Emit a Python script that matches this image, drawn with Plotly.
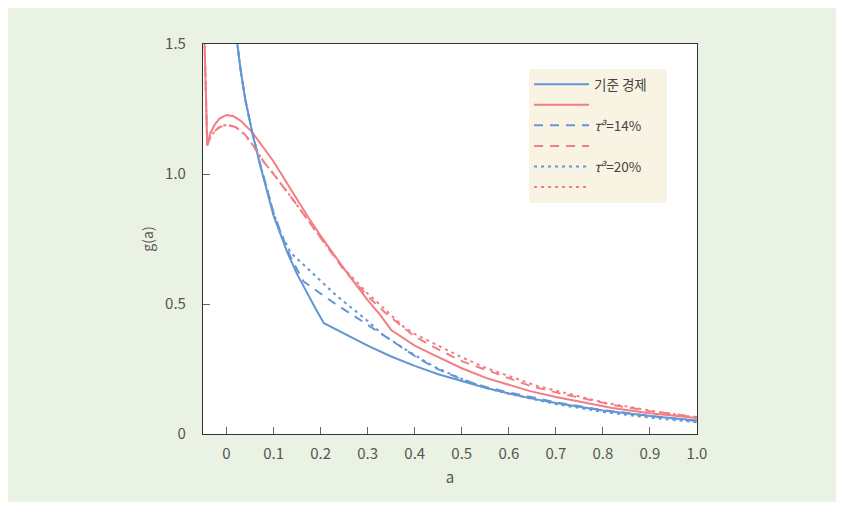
import plotly.graph_objects as go

# ---- data ----
blue_solid_x = [0.018, 0.023, 0.03, 0.04, 0.055, 0.072, 0.1, 0.115, 0.13, 0.15, 0.17, 0.19, 0.207,
                0.25, 0.3, 0.35, 0.4, 0.45, 0.5, 0.55, 0.6, 0.65, 0.7, 0.8, 0.9, 1.0]
blue_solid_y = [1.6, 1.5, 1.40, 1.285, 1.157, 1.03, 0.84, 0.765, 0.695, 0.615, 0.545, 0.48, 0.426,
                0.385, 0.34, 0.298, 0.262, 0.23, 0.203, 0.178, 0.156, 0.136, 0.119, 0.09, 0.069, 0.052]

blue_dash_x = [0.018, 0.023, 0.03, 0.04, 0.055, 0.072, 0.1, 0.115, 0.13, 0.139, 0.164, 0.2, 0.235,
               0.3, 0.338, 0.4, 0.44, 0.5, 0.553, 0.6, 0.7, 0.8, 0.9, 1.0]
blue_dash_y = [1.6, 1.5, 1.40, 1.285, 1.157, 1.035, 0.85, 0.775, 0.705, 0.67, 0.586, 0.54, 0.496,
               0.42, 0.374, 0.30, 0.257, 0.21, 0.18, 0.16, 0.122, 0.092, 0.07, 0.05]

blue_dot_x = [0.018, 0.023, 0.03, 0.04, 0.055, 0.072, 0.1, 0.115, 0.136, 0.2, 0.235, 0.3, 0.33,
              0.376, 0.4, 0.44, 0.5, 0.55, 0.6, 0.7, 0.8, 0.9, 1.0]
blue_dot_y = [1.6, 1.5, 1.40, 1.285, 1.157, 1.035, 0.85, 0.775, 0.698, 0.587, 0.53, 0.435, 0.385,
              0.33, 0.305, 0.26, 0.212, 0.178, 0.155, 0.115, 0.085, 0.063, 0.045]

red_solid_x = [-0.048, -0.041, -0.035, -0.025, -0.015, 0.0, 0.015, 0.03, 0.055, 0.075, 0.1, 0.125,
               0.15, 0.175, 0.2, 0.25, 0.3, 0.327, 0.35, 0.4, 0.44, 0.5, 0.553, 0.6, 0.645, 0.7, 0.82, 0.9, 1.0]
red_solid_y = [1.6, 1.11, 1.155, 1.19, 1.213, 1.227, 1.222, 1.205, 1.16, 1.112, 1.048, 0.975,
               0.90, 0.83, 0.762, 0.635, 0.515, 0.457, 0.40, 0.34, 0.304, 0.253, 0.215, 0.188, 0.165, 0.142, 0.1, 0.08, 0.062]

red_dash_x = [-0.048, -0.041, -0.035, -0.025, -0.015, 0.0, 0.02, 0.04, 0.06, 0.08, 0.1, 0.115, 0.15,
              0.178, 0.2, 0.25, 0.3, 0.338, 0.376, 0.4, 0.44, 0.5, 0.553, 0.645, 0.7, 0.82, 0.9, 1.0]
red_dash_y = [1.6, 1.11, 1.14, 1.165, 1.18, 1.19, 1.18, 1.15, 1.1, 1.045, 1.0, 0.965, 0.88,
              0.81, 0.755, 0.63, 0.53, 0.465, 0.41, 0.375, 0.335, 0.28, 0.246, 0.185, 0.16, 0.112, 0.088, 0.065]

red_dot_x = [-0.048, -0.041, -0.035, -0.025, -0.015, 0.0, 0.02, 0.04, 0.06, 0.08, 0.1, 0.115, 0.15,
             0.178, 0.2, 0.25, 0.3, 0.327, 0.376, 0.4, 0.44, 0.5, 0.553, 0.66, 0.8, 0.9, 1.0]
red_dot_y = [1.6, 1.11, 1.14, 1.165, 1.18, 1.19, 1.18, 1.15, 1.1, 1.045, 1.0, 0.965, 0.88,
             0.81, 0.755, 0.635, 0.54, 0.496, 0.413, 0.385, 0.35, 0.295, 0.253, 0.185, 0.122, 0.09, 0.063]

x_ticks = [0, 0.1, 0.2, 0.3, 0.4, 0.5, 0.6, 0.7, 0.8, 0.9, 1.0]
x_tick_labels = ["0", "0.1", "0.2", "0.3", "0.4", "0.5", "0.6", "0.7", "0.8", "0.9", "1.0"]
y_ticks = [0, 0.5, 1.0, 1.5]
y_tick_labels = ["0", "0.5", "1.0", "1.5"]

BLUE = "#6396D4"
RED = "#F27E84"
FONT = "Noto Sans CJK KR"

series = [
    ("기준 경제&nbsp;&nbsp;&nbsp;&nbsp;&nbsp;", blue_solid_x, blue_solid_y, BLUE, "solid"),
    (" ", red_solid_x, red_solid_y, RED, "solid"),
    ("<i>τ</i><sup><i>a</i></sup>=14%", blue_dash_x, blue_dash_y, BLUE, "9px,7px"),
    ("  ", red_dash_x, red_dash_y, RED, "9px,7px"),
    ("<i>τ</i><sup><i>a</i></sup>=20%", blue_dot_x, blue_dot_y, BLUE, "3px,4px"),
    ("   ", red_dot_x, red_dot_y, RED, "3px,4px"),
]

fig = go.Figure()
for name, xs, ys, col, dash in series:
    fig.add_trace(go.Scatter(x=xs, y=ys, mode="lines", name=name,
                             line=dict(color=col, width=2, dash=dash)))

axis_common = dict(showgrid=False, zeroline=False, showline=True, linecolor="#333333",
                   linewidth=1.2, mirror=True, ticks="inside", ticklen=7, tickcolor="#666666",
                   tickfont=dict(family=FONT, size=15, color="#555555"))

fig.update_layout(
    width=828, height=494,
    margin=dict(l=195, r=139, t=36, b=68),
    paper_bgcolor="#EAF2E3",
    plot_bgcolor="#FFFFFF",
    font=dict(family=FONT, color="#444444"),
    xaxis=dict(range=[-0.05, 1.0], tickvals=x_ticks, ticktext=x_tick_labels,
               title=dict(text="a", font=dict(family=FONT, size=15, color="#555555"), standoff=10),
               ticklabelstandoff=6, **axis_common),
    yaxis=dict(range=[0, 1.5], tickvals=y_ticks, ticktext=y_tick_labels,
               title=dict(text="g(a)", font=dict(family=FONT, size=14, color="#555555"), standoff=8),
               ticklabelstandoff=13, **axis_common),
    legend=dict(x=0.66, y=0.936, xanchor="left", yanchor="top", bgcolor="#F8F3E3",
                borderwidth=0, font=dict(family=FONT, size=13.5, color="#444444"),
                itemwidth=55, tracegroupgap=0),
    showlegend=True,
)

fig.write_html("out.html")
